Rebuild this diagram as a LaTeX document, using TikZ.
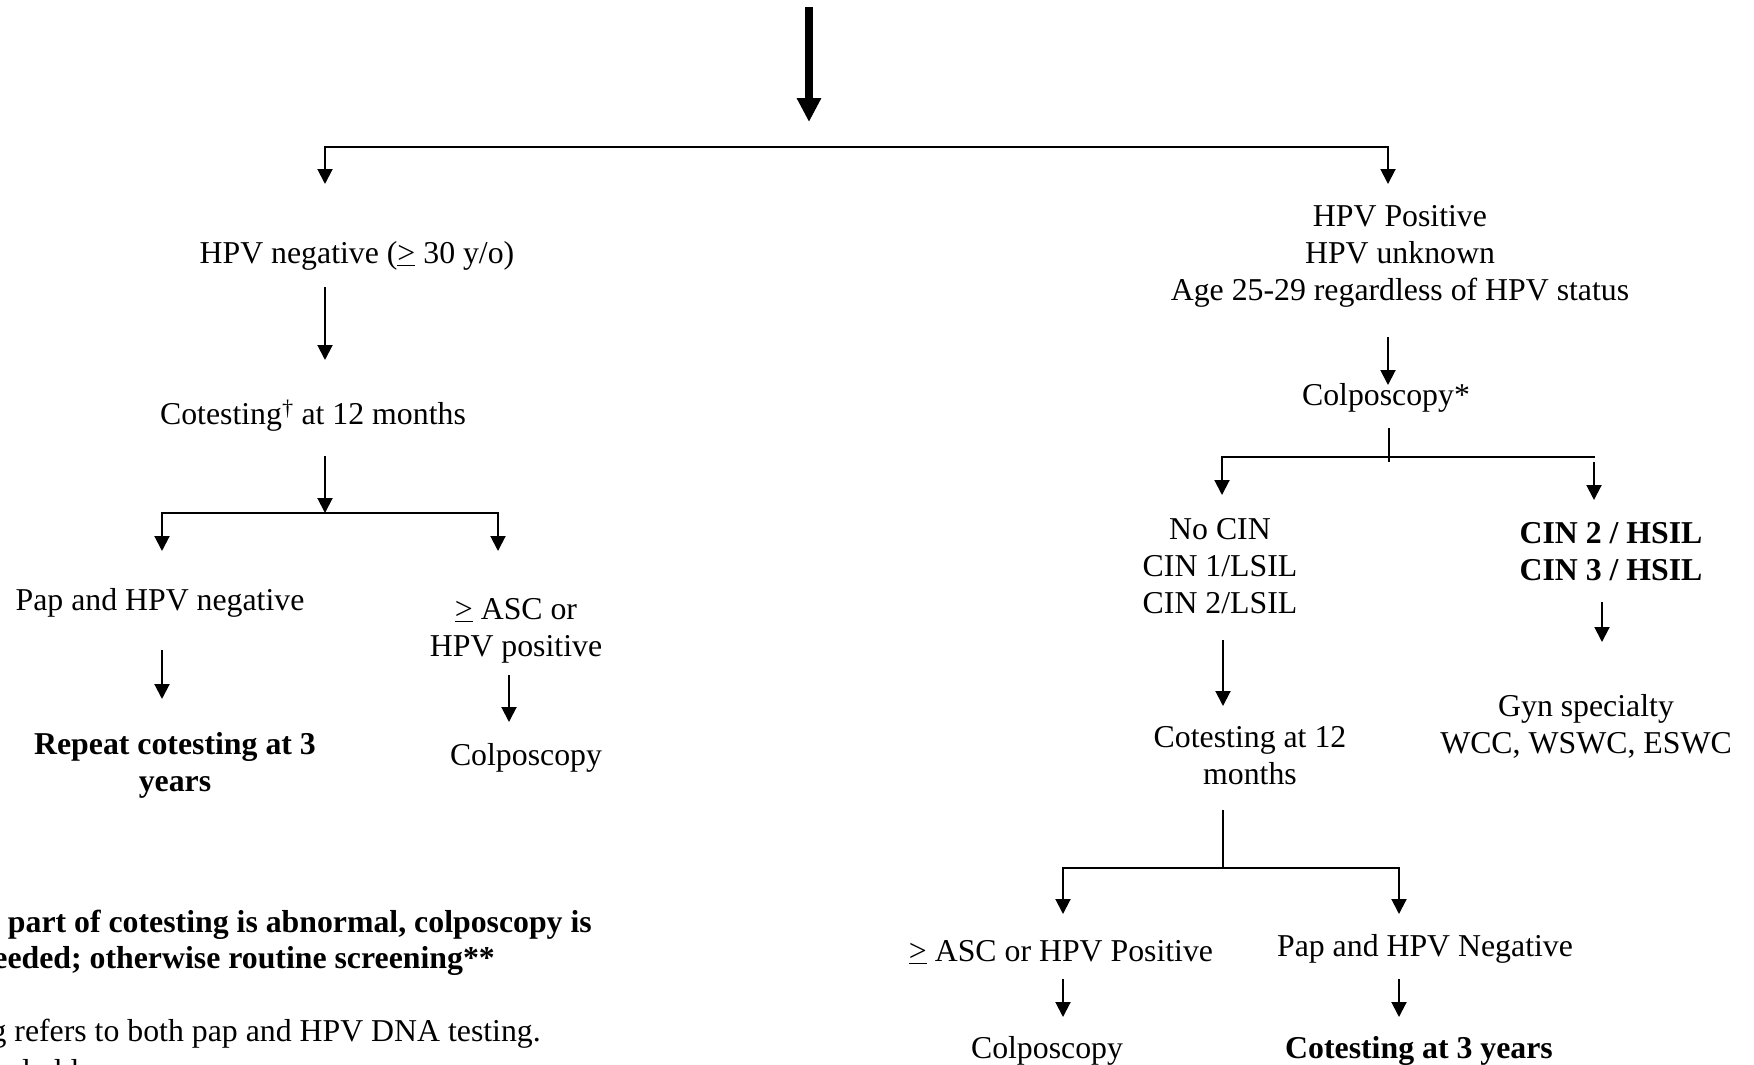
\documentclass[tikz,border=0pt]{standalone}
\usepackage{fontspec}
\setmainfont{Liberation Serif}
\usetikzlibrary{arrows.meta}
\begin{document}
\begin{tikzpicture}[x=1pt,y=-1pt,
  txt/.style={inner sep=0pt, align=center, font=\fontsize{31.8}{37}\selectfont},
  bold/.style={inner sep=0pt, align=center, font=\fontsize{31.8}{37}\selectfont\bfseries},
  tri/.tip={Triangle[width=15pt,length=15pt]},
  arr/.style={line width=2pt, -tri},
  arrb/.style={line width=2pt, tri-tri},
  ln/.style={line width=2pt},
  bigarr/.style={line width=8pt, -{Triangle[width=23pt,length=24pt]}},
]
\path[use as bounding box, fill=white] (0,0) rectangle (1754,1065);
\clip (0,0) rectangle (1754,1065);

% ---- nodes ----
\node[txt] (hpvneg) at (357,256) {HPV negative (\underline{>} 30 y/o)};
\node[txt] (cot12) at (313,416) {Cotesting\textsuperscript{†} at 12 months};
\node[txt] (papneg) at (160,603) {Pap and HPV negative};
\node[txt] (ascor) at (516,631) {\underline{>} ASC or\\HPV positive};
\node[bold] (repeat) at (175,765) {Repeat cotesting at 3\\years};
\node[txt] (colpL) at (526,758) {Colposcopy};
\node[txt] (hpvpos) at (1400,256) {HPV Positive\\HPV unknown\\Age 25-29 regardless of HPV status};
\node[txt] (colpstar) at (1386,398) {Colposcopy*};
\node[txt] (nocin) at (1220,566) {No CIN\\CIN 1/LSIL\\CIN 2/LSIL};
\node[bold] (cinh) at (1611,552) {CIN 2 / HSIL\\CIN 3 / HSIL};
\node[txt] (gyn) at (1586,726) {Gyn specialty\\WCC, WSWC, ESWC};
\node[txt] (cot12R) at (1250,756) {Cotesting at 12\\months};
\node[txt] (ascR) at (1061,952) {\underline{>} ASC or HPV Positive};
\node[txt] (papR) at (1425,949) {Pap and HPV Negative};
\node[txt] (colpR) at (1047,1051) {Colposcopy};
\node[bold] (cot3) at (1419,1051) {Cotesting at 3 years};

\node[bold, anchor=east] (f1) at (592,925) {part of cotesting is abnormal, colposcopy is};
\node[bold, anchor=east] (f2) at (495,961) {eeded; otherwise routine screening**};
\node[txt, anchor=east] (f3) at (541,1034) {g refers to both pap and HPV DNA testing.};
\node[txt, anchor=west] (f4) at (-2,1071) {nd older};

% ---- connector coordinates ----
\coordinate (t0) at (809,7);
\coordinate (t1) at (809,122);
\coordinate (bl) at (325,184);
\coordinate (bm) at (809,147);
\coordinate (br) at (1388,184);
\coordinate (a1s) at (325,287);
\coordinate (a1e) at (325,360);
\coordinate (a2s) at (325,456);
\coordinate (a2e) at (325,513);
\coordinate (l2a) at (162,551);
\coordinate (l2b) at (498,551);
\coordinate (a3s) at (162,650);
\coordinate (a3e) at (162,699);
\coordinate (a4s) at (509,675);
\coordinate (a4e) at (509,722);
\coordinate (r1s) at (1388,337);
\coordinate (r1e) at (1388,385);
\coordinate (r2s) at (1389,428);
\coordinate (r2e) at (1389,462);
\coordinate (r2bar) at (1595,457);
\coordinate (r2l) at (1222,495);
\coordinate (r3s) at (1594,462);
\coordinate (r3e) at (1594,500);
\coordinate (r4s) at (1602,602);
\coordinate (r4e) at (1602,642);
\coordinate (r5s) at (1223,640);
\coordinate (r5e) at (1223,706);
\coordinate (r6s) at (1223,810);
\coordinate (r6m) at (1223,868);
\coordinate (r6a) at (1063,914);
\coordinate (r6b) at (1399,914);
\coordinate (r7s) at (1063,979);
\coordinate (r7e) at (1063,1017);
\coordinate (r8s) at (1399,979);
\coordinate (r8e) at (1399,1017);

% ---- connectors ----
\draw[bigarr] (t0) -- (t1);
\draw[arrb] (bl) |- (bm) -| (br);
\draw[arr] (a1s) -- (a1e);
\draw[arr] (a2s) -- (a2e);
\draw[arrb] (l2a) |- (a2e) -| (l2b);
\draw[arr] (a3s) -- (a3e);
\draw[arr] (a4s) -- (a4e);
\draw[arr] (r1s) -- (r1e);
\draw[ln] (r2s) -- (r2e);
\draw[arr] (r2bar) -| (r2l);
\draw[arr] (r3s) -- (r3e);
\draw[arr] (r4s) -- (r4e);
\draw[arr] (r5s) -- (r5e);
\draw[ln] (r6s) -- (r6m);
\draw[arrb] (r6a) |- (r6m) -| (r6b);
\draw[arr] (r7s) -- (r7e);
\draw[arr] (r8s) -- (r8e);
\end{tikzpicture}
\end{document}
